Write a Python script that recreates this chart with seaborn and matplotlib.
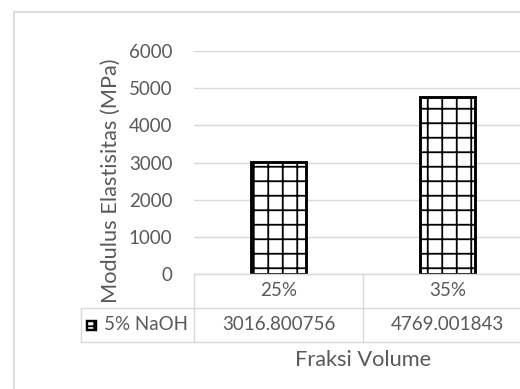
import matplotlib
matplotlib.use('Agg')
import matplotlib.pyplot as plt
import seaborn as sns
import pandas as pd
from matplotlib.patches import Rectangle
from matplotlib.lines import Line2D

# data
categories = ['25%', '35%']
series_name = '5% NaOH'
modulus = [3016.800756, 4769.001843]
y_ticks = [0, 1000, 2000, 3000, 4000, 5000, 6000]

df = pd.DataFrame({'Fraksi': categories, 'Modulus': modulus})

sns.set_style('white')
plt.rcParams['font.family'] = ['Lato', 'DejaVu Sans']
plt.rcParams['hatch.linewidth'] = 1.5

DPI = 87
W, H = 520, 389
fig = plt.figure(figsize=(W / DPI, H / DPI), dpi=DPI)
txt = '#595959'
grid = '#d9d9d9'
fs = 15.5
fs_title = 18


def fx(px):
    return px / W


def fy(py):
    return 1 - py / H


left, right, top, bottom = 194, 532, 50.7, 274.3
ax = fig.add_axes([fx(left), fy(bottom), fx(right - left), (bottom - top) / H])

sns.barplot(data=df, x='Fraksi', y='Modulus', ax=ax, width=0.32,
            color='white', edgecolor='black', linewidth=2.4, hatch='+',
            saturation=1)

ax.set_ylim(0, 6000)
ax.set_xlim(-0.5, len(categories) - 0.5)
ax.set_yticks(y_ticks)
ax.set_yticklabels([str(t) for t in y_ticks], color=txt, fontsize=fs)
ax.tick_params(axis='y', length=0, pad=18)
ax.set_xticks([])
ax.set_xlabel('')
ax.set_ylabel('')
for s in ax.spines.values():
    s.set_visible(False)
ax.grid(axis='y', color=grid, linewidth=1.2)
ax.set_axisbelow(True)

# data table below the plot area
row1, row2, row3 = 274.3, 307.7, 341.7
tbl_left = 81
for x0, x1, yy in [(left, right, row1), (tbl_left, right, row2), (tbl_left, right, row3)]:
    fig.add_artist(Line2D([fx(x0), fx(x1)], [fy(yy), fy(yy)], color=grid, lw=1.2))
fig.add_artist(Line2D([fx(tbl_left), fx(tbl_left)], [fy(row2), fy(row3)], color=grid, lw=1.2))
step = (right - left) / len(categories)
for i in range(len(categories) + 1):
    xx = left + i * step
    fig.add_artist(Line2D([fx(xx), fx(xx)], [fy(row1), fy(row3)], color=grid, lw=1.2))

for i, (cat, val) in enumerate(zip(categories, modulus)):
    cx = fx(left + (i + 0.5) * step)
    fig.text(cx, fy((row1 + row2) / 2), cat, ha='center', va='center', color=txt, fontsize=fs)
    fig.text(cx, fy((row2 + row3) / 2), f'{val:.6f}', ha='center', va='center', color=txt, fontsize=fs)

# legend key in the table
fig.add_artist(Rectangle((fx(87), fy(330)), fx(9), 9 / H, facecolor='white',
                         edgecolor='black', lw=2, hatch='+'))
fig.text(fx(104), fy((row2 + row3) / 2), series_name, ha='left', va='center',
         color=txt, fontsize=fs)

# axis titles
fig.text(fx(111), fy(181), 'Modulus Elastisitas (MPa)', rotation=90, ha='center',
         va='center', color=txt, fontsize=fs_title)
fig.text(fx(363), fy(360), 'Fraksi Volume', ha='center', va='center', color=txt, fontsize=fs_title)

# chart frame
fig.add_artist(Line2D([fx(14), fx(14)], [fy(12), fy(400)], color=grid, lw=1.5))
fig.add_artist(Line2D([fx(14), fx(530)], [fy(12), fy(12)], color=grid, lw=1.5))

fig.savefig('out.png', dpi=DPI)
